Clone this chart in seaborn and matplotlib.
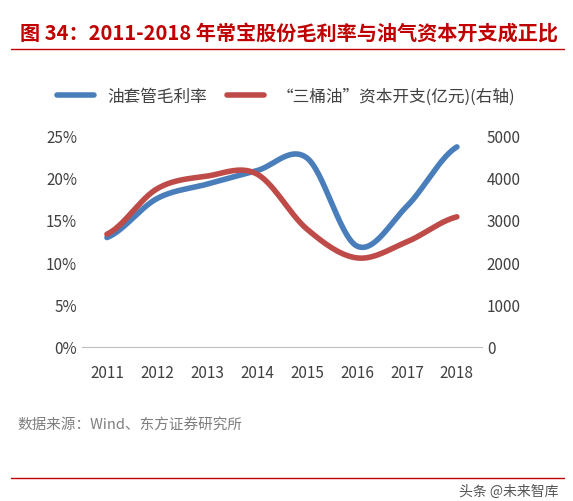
import numpy as np
import matplotlib
matplotlib.use("Agg")
import matplotlib.pyplot as plt
import seaborn as sns
import pandas as pd

years = [2011, 2012, 2013, 2014, 2015, 2016, 2017, 2018]
margin = [12.9, 17.5, 19.2, 20.8, 22.3, 11.9, 16.6, 23.6]
capex = [2660, 3730, 4030, 4080, 2780, 2100, 2480, 3070]
xticklabels = [str(y) for y in years]

sns.set_style("white")
plt.rcParams['font.family'] = ['Noto Sans CJK SC', 'DejaVu Sans']

def smooth(x, y, n=30):
    x = np.asarray(x, float); y = np.asarray(y, float)
    xs, ys = [], []
    P = np.concatenate([[y[0]], y, [y[-1]]])
    for i in range(len(x) - 1):
        t = np.linspace(0, 1, n, endpoint=False)
        p0, p1, p2, p3 = P[i], P[i+1], P[i+2], P[i+3]
        ys.append(0.5*((2*p1) + (-p0+p2)*t + (2*p0-5*p1+4*p2-p3)*t**2 + (-p0+3*p1-3*p2+p3)*t**3))
        xs.append(x[i] + t*(x[i+1]-x[i]))
    xs.append([x[-1]]); ys.append([y[-1]])
    return np.concatenate(xs), np.concatenate(ys)

fig = plt.figure(figsize=(5.73, 5.02), dpi=100)
ax = fig.add_axes([0.143, 0.307, 0.698, 0.422])
ax2 = ax.twinx()

idx = np.arange(len(years))
bx, by = smooth(idx, margin)
rx, ry = smooth(idx, capex)
blue = "#4a7ebb"; red = "#be4b48"
sns.lineplot(x=bx, y=by, ax=ax, color=blue, lw=4, label="油套管毛利率", legend=False)
sns.lineplot(x=rx, y=ry, ax=ax2, color=red, lw=4, label="“三桶油”资本开支(亿元)(右轴)", legend=False)

ax.set_ylim(0, 25); ax2.set_ylim(0, 5000)
ax.set_xlim(-0.5, 7.5)
ax.set_yticks(range(0, 26, 5))
ax.set_yticklabels([f"{v}%" for v in range(0, 26, 5)])
ax2.set_yticks(range(0, 5001, 1000))
ax.set_xticks(idx); ax.set_xticklabels(xticklabels)
for a in (ax, ax2):
    for s in a.spines.values():
        s.set_visible(False)
    a.tick_params(length=0, labelsize=11, colors="#404040")
ax.spines['bottom'].set_visible(True); ax.spines['bottom'].set_color("#bfbfbf")
ax.tick_params(axis='x', pad=12)

h1, l1 = ax.get_legend_handles_labels()
h2, l2 = ax2.get_legend_handles_labels()
fig.legend(h1 + h2, l1 + l2, loc='center', bbox_to_anchor=(0.5, 0.806), ncol=2,
           frameon=False, fontsize=12, handlelength=2.2, columnspacing=1.2,
           labelcolor="#404040")

fig.text(0.035, 0.935, "图 34：2011-2018 年常宝股份毛利率与油气资本开支成正比",
         color="#c00000", fontsize=14.5, fontweight='bold', va='center')
fig.add_artist(plt.Line2D([0.02, 0.985], [0.9, 0.9], color="#c00000", lw=1))
fig.add_artist(plt.Line2D([0.02, 0.985], [0.045, 0.045], color="#c00000", lw=1))
fig.text(0.03, 0.153, "数据来源：Wind、东方证券研究所", color="#7f7f7f", fontsize=10.5, va='center')
fig.text(0.975, 0.02, "头条 @未来智库", color="#555555", fontsize=10, ha='right', va='center')

fig.savefig("out.png", dpi=100)
